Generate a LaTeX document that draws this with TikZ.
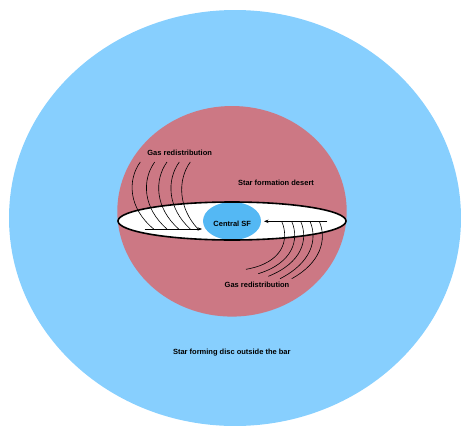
\documentclass[tikz,border=0pt]{standalone}
\usepackage{fontspec}
\setmainfont{Liberation Sans}
\usetikzlibrary{arrows.meta,shapes.geometric}
\definecolor{discblue}{RGB}{135,207,254}
\definecolor{desertpink}{RGB}{204,120,132}
\definecolor{sfblue}{RGB}{84,184,244}
\begin{document}
\begin{tikzpicture}[x=1pt,y=-1pt,
  lbl/.style={font=\fontsize{7.5}{9}\selectfont\bfseries, inner sep=0pt},
  flow/.style={line width=0.6pt, black},
  arr/.style={flow, -{Stealth[length=4.5pt,width=3.4pt]}}]
\useasboundingbox (0,0) rectangle (461,426);
\begin{scope}
\clip (0,0) rectangle (461,426);
\fill[discblue] (235,218) ellipse [x radius=226, y radius=208];
\end{scope}
\fill[desertpink] (232,211.3) ellipse [x radius=114.7, y radius=105.3];
\fill[white] (232,221) ellipse [x radius=114, y radius=19];
\node (cs) [ellipse, fill=sfblue, minimum width=58pt, minimum height=38pt, inner sep=0pt] at (232,221) {};
\draw[line width=1.6pt] (232,221) ellipse [x radius=114, y radius=19];
% left group
\foreach \t/\e in {140.3/153.7, 154.7/167, 167/178.7, 179.3/190.3, 190.3/198}
  \draw[flow] (\t,162) .. controls ({\t-13},180) and ({\t-12},208) .. (\e,229);
\coordinate (la) at (144.7,229);
\coordinate (lb) at (202,229);
\draw[arr] (la) -- (lb);
% right group
\foreach \t/\ex/\ey in {281.7/246/269.3, 291.7/258.3/273.7, 300.7/268.3/276.3, 310/280/278.7, 319.3/291.7/278.7}
  \draw[flow] (\t,221.3) .. controls ({\t+8},240) and ({\t+1},263) .. (\ex,\ey);
\coordinate (ra) at (327.3,221.3);
\coordinate (rb) at (264,221.3);
\draw[arr] (ra) -- (rb);
% labels
\node[lbl] (gr1) at (179.7,153) {Gas redistribution};
\node[lbl] (sfd) at (276,182.7) {Star formation desert};
\node[lbl] (csl) at (232.2,224) {Central SF};
\node[lbl] (gr2) at (257,285) {Gas redistribution};
\node[lbl] (disc) at (231.8,352.3) {Star forming disc outside the bar};
\end{tikzpicture}
\end{document}
